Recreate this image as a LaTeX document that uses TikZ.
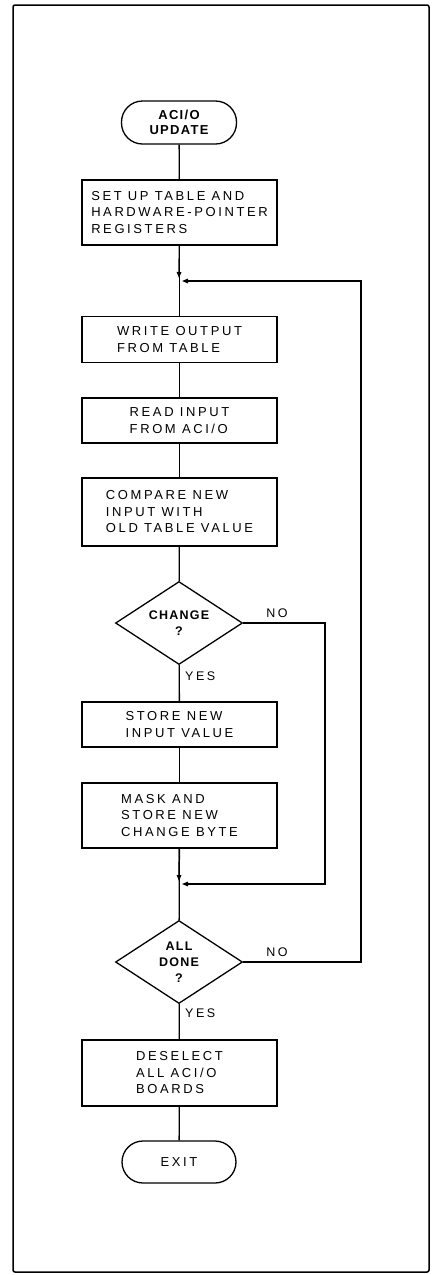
\documentclass[tikz,border=0pt]{standalone}
\usepackage{fontspec}
\setmainfont{Liberation Sans}[LetterSpace=20]
\newfontfamily\headfont{Liberation Sans}[LetterSpace=10]
\usetikzlibrary{shapes.geometric,arrows.meta}
\begin{document}
\begin{tikzpicture}[x=1pt,y=-1pt,
  every node/.style={font=\fontsize{13}{16.5}\selectfont, inner sep=0pt},
  procbox/.style={draw, line width=1.3pt, minimum width=195pt, align=left},
  termbox/.style={draw, line width=1.3pt, rounded corners=21pt, minimum width=115pt, minimum height=43pt, align=center},
  headtxt/.style={font=\headfont\bfseries\fontsize{13}{15.5}\selectfont},
  decbox/.style={draw, diamond, aspect=1.53, line width=1.3pt, minimum width=127pt, minimum height=83pt, align=center, font=\headfont\bfseries\fontsize{12.5}{16}\selectfont},
  flow/.style={line width=1.3pt},
  arr/.style={line width=1.3pt, -{Triangle[length=6pt,width=4.5pt]}},
  lbl/.style={font=\fontsize{12.5}{14}\selectfont}
]
\useasboundingbox (0,0) rectangle (437,1275);
\draw[line width=1.5pt, rounded corners=2pt] (13,5) rectangle (429,1272);

\node[termbox, headtxt] (st) at (179,122.5) {ACI/O\\UPDATE};
\node[procbox, minimum height=65pt] (b1) at (179.5,212.5) {SET UP TABLE AND\\HARDWARE-POINTER\\REGISTERS};
\node[procbox, minimum height=46pt] (b2) at (179.5,339.5) {WRITE OUTPUT\\FROM TABLE};
\node[procbox, minimum height=45pt] (b3) at (179.5,420.5) {READ INPUT\\FROM ACI/O};
\node[procbox, minimum height=68pt] (b4) at (179.5,512) {COMPARE NEW\\INPUT WITH\\OLD TABLE VALUE};
\node[decbox] (d1) at (179,623) {CHANGE\\?};
\node[procbox, minimum height=45pt] (b5) at (179.5,724.5) {STORE NEW\\INPUT VALUE};
\node[procbox, minimum height=65pt] (b6) at (179.5,815.5) {MASK AND\\STORE NEW\\CHANGE BYTE};
\node[decbox] (d2) at (179,962) {ALL\\DONE\\?};
\node[procbox, minimum height=66pt] (b7) at (179.5,1073) {DESELECT\\ALL ACI/O\\BOARDS};
\node[termbox, minimum width=114pt, minimum height=42pt] (ex) at (179,1162) {EXIT};

\node[lbl, anchor=west] (yes1) at (185,676) {YES};
\node[lbl, anchor=west] (yes2) at (185,1013) {YES};
\node[lbl] (no1) at (277,613) {NO};
\node[lbl] (no2) at (277,952) {NO};

\coordinate (j1) at (179,281);
\coordinate (j2) at (179,884);
\coordinate (cA) at (325,0);
\coordinate (cB) at (361,0);

\draw[flow] (st) -- (b1);
\draw[flow] (b1) -- (b2);
\draw[arr] (b1) -- ([yshift=3pt]j1);
\draw[flow] (b2) -- (b3);
\draw[flow] (b3) -- (b4);
\draw[flow] (b4) -- (d1);
\draw[flow] (d1) -- (b5);
\draw[flow] (b5) -- (b6);
\draw[flow] (b6) -- (d2);
\draw[arr] (b6) -- ([yshift=3pt]j2);
\draw[flow] (d2) -- (b7);
\draw[flow] (b7) -- (ex);
\draw[arr] (d1.east) -- (d1.east -| cA) |- ([xshift=3pt]j2);
\draw[arr] (d2.east) -- (d2.east -| cB) |- ([xshift=3pt]j1);
\end{tikzpicture}
\end{document}
